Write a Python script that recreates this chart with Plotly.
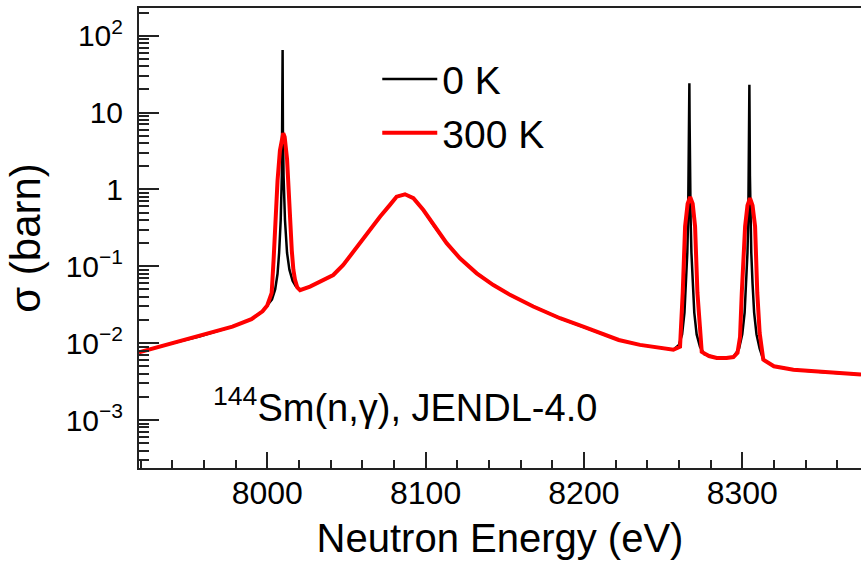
import plotly.graph_objects as go

# ---------------- data ----------------
# 0 K cross section (black)
e_0k = [7919, 7936, 7957, 7978, 7990, 7997, 8000, 8003, 8005, 8006.5, 8007.5,
        8008.5, 8009.2, 8009.5, 8009.7, 8009.9, 8010.3, 8011.2, 8012.5, 8014,
        8016, 8018, 8020.7, 8027.0, 8033.3, 8041.7, 8048.0, 8054.3, 8062.8, 8071.2,
        8077.5, 8081.7, 8087, 8092.3, 8098.6, 8104.9, 8113.3, 8121.7, 8132.3,
        8142.8, 8153.3, 8168, 8184.9, 8199.6, 8210.2, 8222, 8235.4,
        8256.5, 8260, 8262, 8263.5, 8264.5, 8265.3, 8265.8, 8266.2, 8266.45,
        8266.6, 8266.75, 8267.0, 8267.4, 8267.9, 8268.7, 8269.7, 8271.2, 8273.3,
        8276, 8283.9, 8290, 8294.4, 8298, 8300, 8301.5, 8302.5, 8303.3, 8303.8,
        8304.15, 8304.35, 8304.5, 8304.65, 8304.85, 8305.2, 8305.7, 8306.5,
        8307.5, 8309, 8311, 8313.3, 8320, 8332.3, 8350, 8375]
xs_0k = [0.0076, 0.0095, 0.0122, 0.0164, 0.0205, 0.026, 0.031, 0.037, 0.05, 0.08, 0.15,
         0.40, 1.5, 6.0, 65.0, 6.0, 1.5, 0.40, 0.15, 0.09,
         0.065, 0.055, 0.049, 0.0545, 0.0633, 0.077, 0.104, 0.155, 0.256, 0.442,
         0.63, 0.805, 0.865, 0.77, 0.54, 0.345, 0.20, 0.127, 0.081,
         0.057, 0.0425, 0.030, 0.0211, 0.0164, 0.0135, 0.011, 0.0095,
         0.0082, 0.0095, 0.013, 0.025, 0.06, 0.15, 0.4, 1.5, 8.0,
         24.0, 8.0, 1.5, 0.4, 0.15, 0.06, 0.025, 0.013, 0.009,
         0.0072, 0.0064, 0.0064, 0.0066, 0.0085, 0.013, 0.025, 0.06, 0.15, 0.4,
         1.5, 8.0, 23.0, 8.0, 1.5, 0.4, 0.15, 0.06,
         0.025, 0.013, 0.0085, 0.0061, 0.0050, 0.0045, 0.0042, 0.0039]

# 300 K cross section (red, Doppler broadened)
e_300k = [7919, 7936, 7957, 7978, 7990, 7997, 8000, 8002.8, 8004.0, 8005.0, 8006.5,
          8008.0, 8009.5, 8010.1, 8011.0, 8012.5, 8013.5, 8014.3, 8015.5, 8016.5,
          8017.5, 8019, 8020.7, 8027.0, 8033.3, 8041.7, 8048.0, 8054.3, 8062.8, 8071.2,
          8077.5, 8081.7, 8087, 8092.3, 8098.6, 8104.9, 8113.3, 8121.7, 8132.3,
          8142.8, 8153.3, 8168, 8184.9, 8199.6, 8210.2, 8222, 8235.4,
          8256.5, 8260.7, 8261.1, 8262.4, 8263.9, 8265.5, 8267.1, 8268.7, 8270.2,
          8271.7, 8273.3, 8274.4, 8279, 8283.9, 8290, 8294.4, 8297, 8298.6, 8299.7,
          8301.8, 8303.3, 8304.9, 8306.5, 8308.1, 8309.5, 8311, 8313.3, 8320,
          8332.3, 8350, 8375]
xs_300k = [0.0076, 0.0095, 0.0122, 0.0164, 0.0205, 0.026, 0.031, 0.045, 0.12, 0.40, 1.3,
           3.2, 5.0, 5.4, 4.8, 2.5, 1.0, 0.40, 0.16, 0.09,
           0.067, 0.053, 0.049, 0.0545, 0.0633, 0.077, 0.104, 0.155, 0.256, 0.442,
           0.63, 0.805, 0.865, 0.77, 0.54, 0.345, 0.20, 0.127, 0.081,
           0.057, 0.0425, 0.030, 0.0211, 0.0164, 0.0135, 0.011, 0.0095,
           0.0082, 0.009, 0.016, 0.045, 0.33, 0.65, 0.80, 0.65, 0.33,
           0.045, 0.016, 0.0077, 0.0068, 0.0064, 0.0064, 0.0066, 0.0075, 0.012, 0.045,
           0.33, 0.62, 0.77, 0.62, 0.33, 0.045, 0.0135, 0.0061, 0.0050,
           0.0045, 0.0042, 0.0039]

y_tickvals = [1e-3, 1e-2, 1e-1, 1, 10, 100]
y_ticktext = ["10<sup>\u22123</sup>", "10<sup>\u22122</sup>", "10<sup>\u22121</sup>",
              "1", "10", "10<sup>2</sup>"]
x_tickvals = [8000, 8100, 8200, 8300]

FONT = "Liberation Sans, Arial, Helvetica, sans-serif"

fig = go.Figure()
fig.add_trace(go.Scatter(x=e_0k, y=xs_0k, mode="lines", name="0 K",
                         line=dict(color="black", width=2.5)))
fig.add_trace(go.Scatter(x=e_300k, y=xs_300k, mode="lines", name="300 K",
                         line=dict(color="#ff0000", width=4)))

minor_y = [k * 10.0 ** n for n in range(-4, 3) for k in range(2, 10)]

fig.update_layout(
    width=861, height=563,
    margin=dict(l=139, r=0, t=8, b=95),
    paper_bgcolor="white", plot_bgcolor="white",
    font=dict(family=FONT, color="black", size=32),
    showlegend=True,
    legend=dict(x=0.33, y=0.915, xanchor="left", yanchor="top",
                bgcolor="rgba(0,0,0,0)", font=dict(size=39),
                itemwidth=55, tracegroupgap=0),
    xaxis=dict(
        range=[7919, 8375], tickvals=x_tickvals,
        ticks="inside", ticklen=16, tickwidth=1.5, tickcolor="#222",
        showline=True, linecolor="#222", linewidth=2, mirror=True,
        showgrid=False, zeroline=False,
        tickfont=dict(size=32), ticklabelstandoff=-4,
        minor=dict(dtick=20, tick0=8000, ticks="inside", ticklen=8,
                   tickwidth=1.5, tickcolor="#222", showgrid=False),
        title=dict(text="Neutron Energy (eV)", font=dict(size=40),
                   standoff=14),
    ),
    yaxis=dict(
        type="log", range=[-3.624, 2.36],
        tickvals=y_tickvals, ticktext=y_ticktext,
        ticks="inside", ticklen=20, tickwidth=1.5, tickcolor="#222",
        showline=True, linecolor="#222", linewidth=2, mirror=False,
        showgrid=False, zeroline=False,
        tickfont=dict(size=30), ticklabelstandoff=8,
        minor=dict(tickvals=minor_y, ticks="inside", ticklen=10,
                   tickwidth=1.5, tickcolor="#222", showgrid=False),
        title=dict(text="\u03c3 (barn)", font=dict(size=42),
                   standoff=12),
    ),
    annotations=[dict(
        text="<sup>144</sup>Sm(n,\u03b3), JENDL-4.0",
        xref="paper", yref="paper", x=0.1, y=0.137,
        xanchor="left", yanchor="middle", showarrow=False,
        font=dict(size=38, color="black"),
    )],
)

fig.write_html("out.html")
